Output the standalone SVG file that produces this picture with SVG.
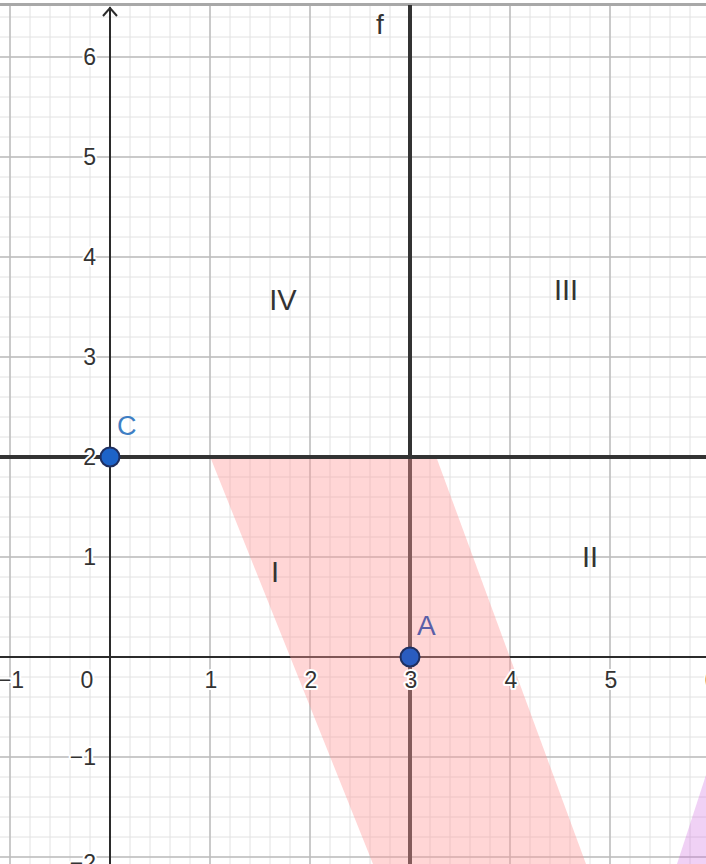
<svg xmlns="http://www.w3.org/2000/svg" width="706" height="864" viewBox="0 0 706 864">
<style>
.minor{stroke:#e2e2e2;stroke-width:1;fill:none}
.major{stroke:#bdbdbd;stroke-width:1.5;fill:none}
.axis{stroke:#2b2b2b;stroke-width:2;fill:none}
.thick{stroke:#333;stroke-width:4;fill:none}
.num{font-family:"Liberation Sans",Arial,sans-serif;font-size:23px;fill:#333;paint-order:stroke;stroke:#fff;stroke-width:4;stroke-linejoin:round}
.roman{font-family:"Liberation Sans",Arial,sans-serif;font-size:29px;fill:#333;text-anchor:middle}
.pt{stroke:#1f2f60;stroke-width:2}
</style>
<rect width="706" height="864" fill="#fff"/>
<g id="grid">
<path class="minor" d="M10 5V864M30 5V864M50 5V864M70 5V864M90 5V864M110 5V864M130 5V864M150 5V864M170 5V864M190 5V864M210 5V864M230 5V864M250 5V864M270 5V864M290 5V864M310 5V864M330 5V864M350 5V864M370 5V864M390 5V864M410 5V864M430 5V864M450 5V864M470 5V864M490 5V864M510 5V864M530 5V864M550 5V864M570 5V864M590 5V864M610 5V864M630 5V864M650 5V864M670 5V864M690 5V864"/>
<path class="minor" d="M0 17H706M0 37H706M0 57H706M0 77H706M0 97H706M0 117H706M0 137H706M0 157H706M0 177H706M0 197H706M0 217H706M0 237H706M0 257H706M0 277H706M0 297H706M0 317H706M0 337H706M0 357H706M0 377H706M0 397H706M0 417H706M0 437H706M0 457H706M0 477H706M0 497H706M0 517H706M0 537H706M0 557H706M0 577H706M0 597H706M0 617H706M0 637H706M0 657H706M0 677H706M0 697H706M0 717H706M0 737H706M0 757H706M0 777H706M0 797H706M0 817H706M0 837H706M0 857H706"/>
<path class="major" d="M10 5V864M210 5V864M310 5V864M510 5V864M610 5V864M0 57H706M0 157H706M0 257H706M0 357H706M0 557H706M0 757H706M0 857H706"/>
<rect x="0" y="3" width="706" height="3" fill="#a8a8a8"/>
</g>
<g id="axes">
<path class="axis" d="M110 7V864M0 657H706"/>
<path d="M103 16L110 8L117 16" fill="none" stroke="#2b2b2b" stroke-width="2"/>
</g>
<g id="lines">
<path id="f" class="thick" d="M410 5V864"/>
<path id="line-y2" class="thick" d="M0 457H706"/>
</g>
<g id="regions">
<polygon id="band" points="211,459 437,459 586,864 373,864" fill="#ff9999" fill-opacity="0.4"/>
<polygon id="purple" points="677,864 706,775 706,864" fill="#cc66dd" fill-opacity="0.3"/>
</g>
<g id="axis-labels">
<text class="num" x="96" y="65" text-anchor="end">6</text>
<text class="num" x="96" y="165" text-anchor="end">5</text>
<text class="num" x="96" y="265" text-anchor="end">4</text>
<text class="num" x="96" y="365" text-anchor="end">3</text>
<text class="num" x="96" y="465" text-anchor="end">2</text>
<text class="num" x="96" y="565" text-anchor="end">1</text>
<text class="num" x="96" y="765" text-anchor="end">−1</text>
<text class="num" x="96" y="871" text-anchor="end">−2</text>
<text class="num" x="11" y="688" text-anchor="middle">−1</text>
<text class="num" x="87" y="688" text-anchor="middle">0</text>
<text class="num" x="211" y="688" text-anchor="middle">1</text>
<text class="num" x="311" y="688" text-anchor="middle">2</text>
<text class="num" x="411" y="688" text-anchor="middle">3</text>
<text class="num" x="511" y="688" text-anchor="middle">4</text>
<text class="num" x="611" y="688" text-anchor="middle">5</text>
<text class="num" x="711" y="688" text-anchor="middle">6</text>
</g>
<g id="region-labels">
<text class="roman" x="283" y="310">IV</text>
<text class="roman" x="566" y="300">III</text>
<text class="roman" x="590" y="567">II</text>
<text class="roman" x="275" y="582">I</text>
<text x="380" y="34" text-anchor="middle" font-family="Liberation Sans, Arial, sans-serif" font-size="28" fill="#333">f</text>
</g>
<g id="C">
<circle class="pt" cx="110" cy="457" r="9.5" fill="#1d63c8"/>
<text x="117" y="435" font-family="Liberation Sans, Arial, sans-serif" font-size="27" fill="#3f7fc4">C</text>
</g>
<g id="A">
<circle class="pt" cx="410" cy="657" r="9.5" fill="#2a5cc0"/>
<text x="417" y="635" font-family="Liberation Sans, Arial, sans-serif" font-size="28" fill="#5a5fa8">A</text>
</g>
</svg>
